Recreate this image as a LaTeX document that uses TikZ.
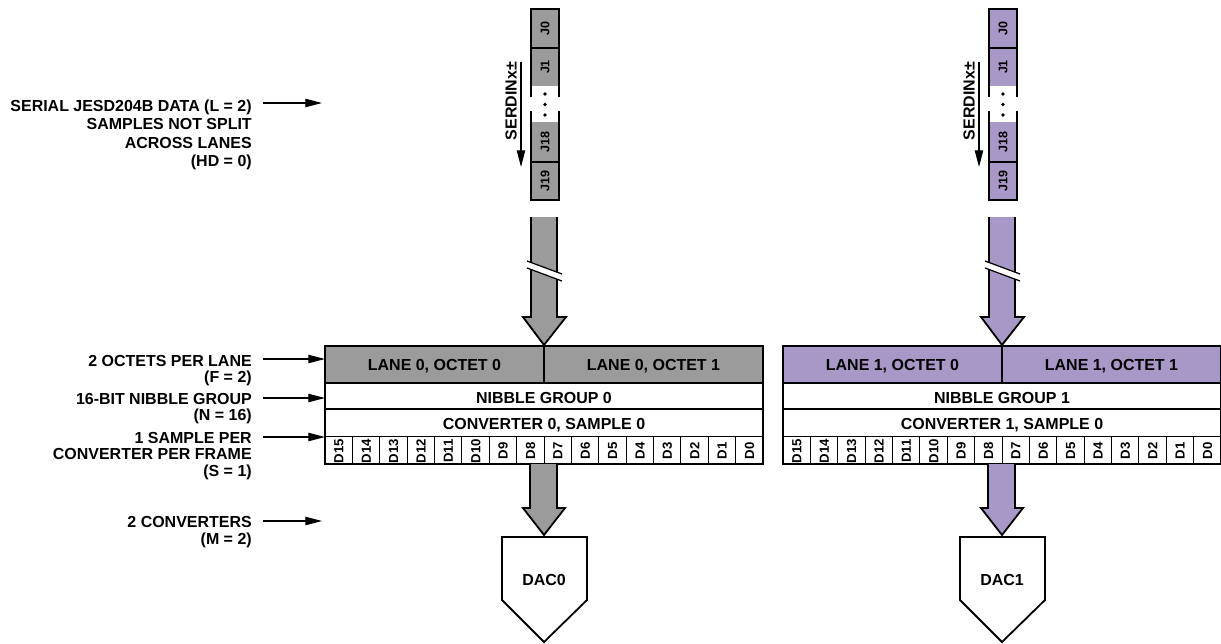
\documentclass[tikz,border=0pt]{standalone}
\usepackage{fontspec}
\setmainfont{Liberation Sans}
\usetikzlibrary{arrows.meta, calc}
\definecolor{lanegray}{RGB}{155,155,155}
\definecolor{lanepurple}{RGB}{168,152,200}
\tikzset{
  lbl/.style={font=\fontsize{11.5}{12}\selectfont\bfseries, align=right, anchor=east, inner sep=0pt},
  txt/.style={font=\fontsize{11.5}{13}\selectfont\bfseries, inner sep=0pt, text height=8.2pt, text depth=0pt},
  bit/.style={font=\fontsize{9.5}{10}\selectfont\bfseries, rotate=90, inner sep=0pt, text height=6.8pt, text depth=0pt},
  jbit/.style={font=\fontsize{9}{10}\selectfont\bfseries, rotate=90, inner sep=0pt, text height=6.4pt, text depth=0pt},
  frame/.style={line width=1.3pt},
  cell/.style={line width=0.9pt},
  bitline/.style={line width=0.7pt},
  fat/.style={line width=1.3pt, line join=miter},
  ptr/.style={-{Triangle[length=12pt, width=6pt]}, line width=0.9pt},
}
\begin{document}
\begin{tikzpicture}[x=0.72pt, y=-0.72pt]
  \useasboundingbox (0,0) rectangle (1221,644);

  \foreach \i/\o/\col in {0/0/lanegray, 1/458/lanepurple} {
    % serial lane
    \fill[\col] (531+\o,9) rectangle (559+\o,86);
    \fill[\col] (531+\o,122) rectangle (559+\o,200);
    \draw[frame] (531+\o,97) -- (531+\o,9) -- (559+\o,9) -- (559+\o,97);
    \draw[frame] (531+\o,111) -- (531+\o,200) -- (559+\o,200) -- (559+\o,111);
    \draw[cell] (531+\o,48) -- (559+\o,48) (531+\o,162) -- (559+\o,162);
    \node[jbit] (j\i-0) at (545+\o,28.5) {J0};
    \node[jbit] (j\i-1) at (545+\o,67) {J1};
    \node[jbit] (j\i-18) at (545+\o,142) {J18};
    \node[jbit] (j\i-19) at (545+\o,181) {J19};
    \foreach \y in {94,104.5,115}
      \fill (545+\o,\y) circle (1.3pt);
    \node[txt, rotate=90] (serdin\i) at (511+\o,101) {SERDINx±};
    \coordinate (s\i-top) at (521+\o,62);
    \coordinate (s\i-bot) at (521+\o,167);
    \draw[ptr] (s\i-top) -- (s\i-bot);

    % lane into the frame
    \filldraw[fat, fill=\col] (531+\o,217) -- (531+\o,317) -- (523+\o,317) -- (544+\o,345)
      -- (566+\o,317) -- (557+\o,317) -- (557+\o,217);
    \fill[white] (527+\o,261) -- (562+\o,274) -- (562+\o,281) -- (527+\o,268) -- cycle;
    \draw[cell] (527+\o,261) -- (562+\o,274) (527+\o,268) -- (562+\o,281);

    % octets, nibble group, sample, bits
    \fill[\col] (325+\o,346) rectangle (763+\o,383);
    \draw[frame] (325+\o,383) -- (763+\o,383);
    \draw[cell] (325+\o,409) -- (763+\o,409) (325+\o,436.5) -- (763+\o,436.5)
      (544+\o,346) -- (544+\o,383);
    \foreach \k in {1,...,15}
      \draw[bitline] (325+\o+27.375*\k,436.5) -- (325+\o+27.375*\k,464);
    \draw[frame] (325+\o,346) rectangle (763+\o,464);
    \node[txt] (oct\i-0) at (434.5+\o,365) {LANE \i, OCTET 0};
    \node[txt] (oct\i-1) at (653.5+\o,365) {LANE \i, OCTET 1};
    \node[txt] (nib\i) at (544+\o,397.5) {NIBBLE GROUP \i};
    \node[txt] (conv\i) at (544+\o,424) {CONVERTER \i, SAMPLE 0};
    \foreach \k in {0,...,15} {
      \pgfmathtruncatemacro\b{15-\k}
      \node[bit] (d\i-\b) at (338.7+\o+27.375*\k,451) {D\b};
    }

    % sample into the converter
    \filldraw[fat, fill=\col] (530+\o,464) -- (530+\o,508) -- (523+\o,508) -- (544+\o,535)
      -- (565+\o,508) -- (557+\o,508) -- (557+\o,464);
    \draw[frame] (502+\o,537) -- (587+\o,537) -- (587+\o,600) -- (544+\o,642)
      -- (502+\o,600) -- cycle;
    \node[txt] (dac\i) at (544+\o,580) {DAC\i};
  }

  % parameters on the left
  \node[lbl, font=\fontsize{11.5}{13.3}\selectfont\bfseries] (serial) at (252,135)
    {SERIAL JESD204B DATA (L = 2)\\SAMPLES NOT SPLIT\\ACROSS LANES\\(HD = 0)};
  \node[lbl] (octets) at (252,370.5) {2 OCTETS PER LANE\\(F = 2)};
  \node[lbl] (nibble) at (252,408.5) {16-BIT NIBBLE GROUP\\(N = 16)};
  \node[lbl] (sample) at (252,456) {1 SAMPLE PER\\CONVERTER PER FRAME\\(S = 1)};
  \node[lbl] (convs) at (252,532) {2 CONVERTERS\\(M = 2)};

  \coordinate (serial-tip) at (322,103);
  \coordinate (octets-tip) at (325,359);
  \coordinate (nibble-tip) at (325,398);
  \coordinate (sample-tip) at (325,437);
  \coordinate (convs-tip) at (322,521);
  \foreach \n in {serial, octets, nibble, sample, convs}
    \draw[ptr] ($(\n.east |- \n-tip)+(11,0)$) -- (\n-tip);
\end{tikzpicture}
\end{document}
